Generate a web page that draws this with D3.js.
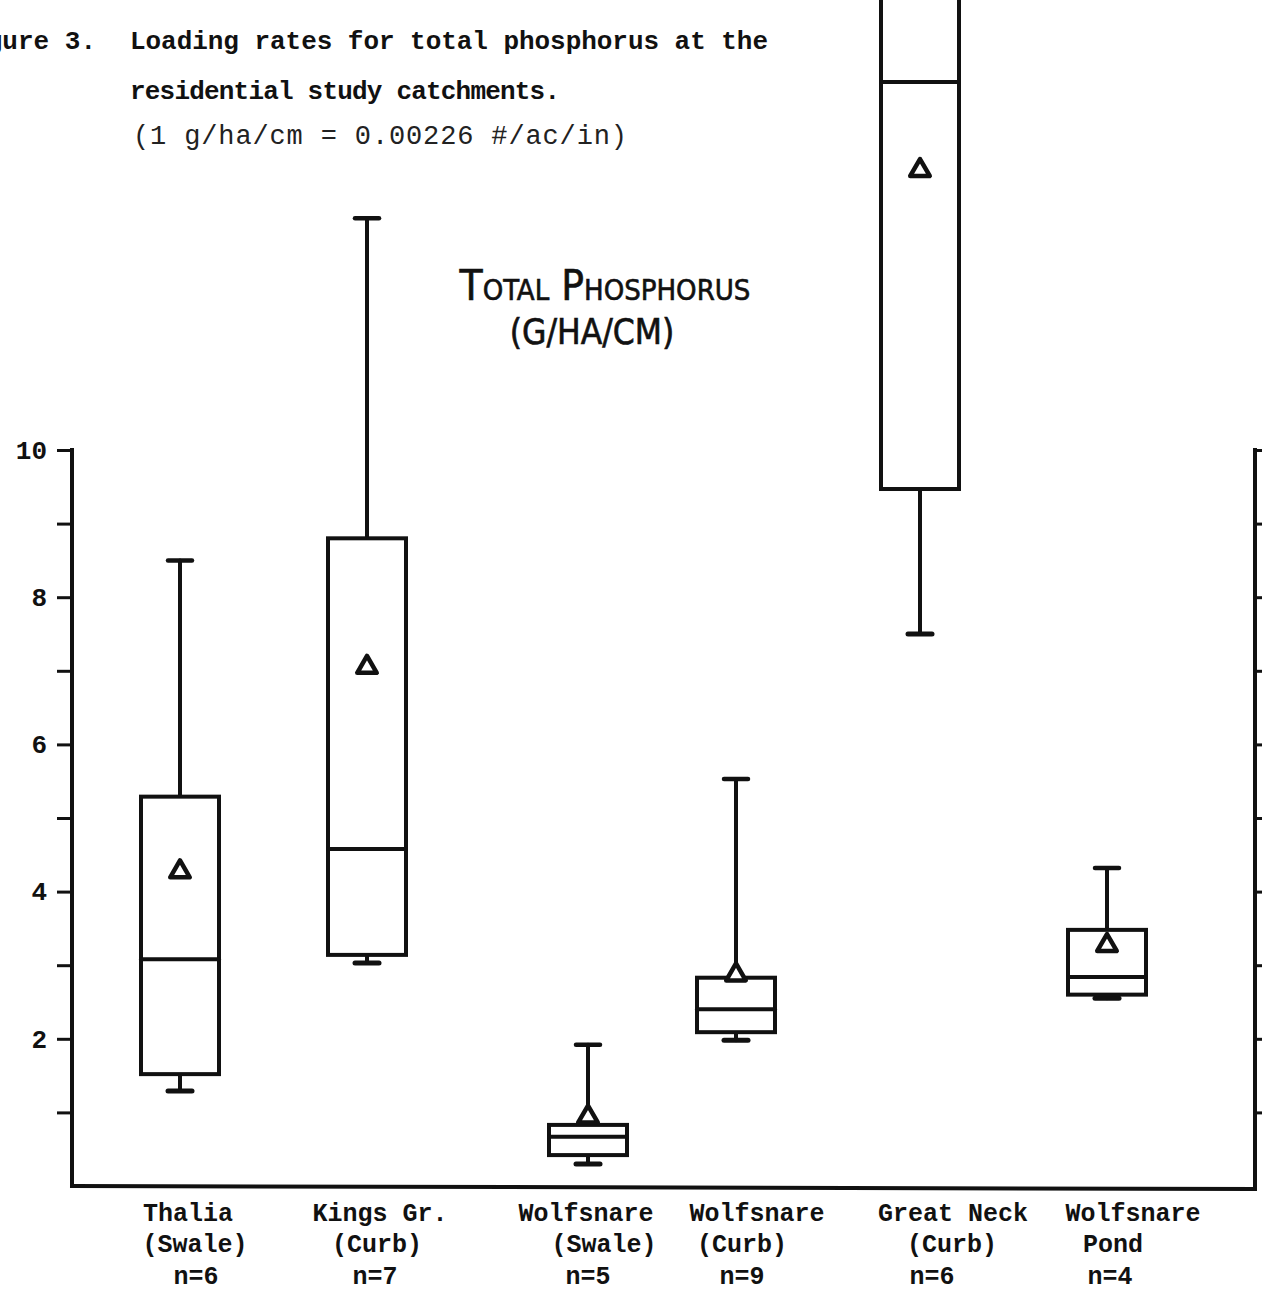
<!DOCTYPE html>
<html>
<head>
<meta charset="utf-8">
<script src="https://cdn.jsdelivr.net/npm/d3@7"></script>
<style>
  html, body { margin: 0; padding: 0; background: #fff; }
  svg { display: block; }
</style>
</head>
<body>
<svg id="chart" width="1262" height="1293"></svg>
<script>
// ---- data ----
const categories = ["Thalia", "Kings Gr.", "Wolfsnare Swale", "Wolfsnare Curb", "Great Neck", "Wolfsnare Pond"];
const labelLine1 = ["Thalia", "Kings Gr.", "Wolfsnare", "Wolfsnare", "Great Neck", "Wolfsnare"];
const labelLine2 = ["(Swale)", "(Curb)", "(Swale)", "(Curb)", "(Curb)", "Pond"];
const sampleN    = ["n=6", "n=7", "n=5", "n=9", "n=6", "n=4"];
const whiskerLow  = [1.29, 3.03, 0.30, 1.98, 7.50, 2.55];
const boxQ1       = [1.52, 3.14, 0.42, 2.09, 9.47, 2.60];
const medianVal   = [3.08, 4.58, 0.67, 2.40, 15.0, 2.84];
const boxQ3       = [5.29, 8.80, 0.83, 2.83, 16.4, 3.48];
const whiskerHigh = [8.50, 13.15, 1.92, 5.53, 17.0, 4.32];
const meanVal     = [4.27, 7.05, 0.94, 2.87, 13.8, 3.27];
const yTicks = [1, 2, 3, 4, 5, 6, 7, 8, 9, 10];
const yTickLabels = ["", "2", "", "4", "", "6", "", "8", "", "10"];

// ---- layout ----
const svg = d3.select("#chart");
const ink = "#111";
const mono = "'Liberation Mono', 'DejaVu Sans Mono', monospace";

const y = d3.scaleLinear().domain([0, 10]).range([1186, 450]);
const x = d3.scaleOrdinal().domain(categories).range([180, 367, 588, 736, 920, 1107]);
const boxW = 78, capW = 24;
// typed label offsets relative to each box centre (layout, not data)
const off1 = [8, 13, -2, 21, 33, 26];
const off2 = [15, 10, 16, 6, 32, 6];
const off3 = [16, 8, 0, 6, 12, 3];

// Figure caption
const cap = svg.append("g").attr("fill", ink).style("font-family", mono);
cap.append("text").attr("x", 96).attr("y", 49).attr("text-anchor", "end")
  .attr("font-size", 26).attr("font-weight", "bold").text("Figure 3.");
cap.append("text").attr("x", 130).attr("y", 49)
  .attr("font-size", 26).attr("font-weight", "bold").attr("textLength", 638)
  .text("Loading rates for total phosphorus at the");
cap.append("text").attr("x", 130).attr("y", 99)
  .attr("font-size", 26).attr("font-weight", "bold").attr("textLength", 430)
  .text("residential study catchments.");
cap.append("text").attr("x", 133).attr("y", 144)
  .attr("font-size", 27).attr("fill", "#222").attr("textLength", 494)
  .text("(1 g/ha/cm = 0.00226 #/ac/in)");

// Chart title
const tt = svg.append("g").attr("fill", ink).attr("stroke", ink).attr("stroke-width", 0.6)
  .style("font-family", "'Liberation Sans Narrow', 'DejaVu Sans Condensed', 'Liberation Sans', sans-serif")
  .attr("text-anchor", "middle");
tt.append("text").attr("x", 605).attr("y", 300).attr("font-size", 42)
  .style("font-variant", "small-caps").text("Total Phosphorus");
tt.append("text").attr("x", 592).attr("y", 344).attr("font-size", 35)
  .text("(G/HA/CM)");

// Axes
const axisG = svg.append("g").attr("transform", "translate(72,0)")
  .call(d3.axisLeft(y).tickValues(yTicks).tickSize(15).tickPadding(10)
    .tickFormat((d, i) => yTickLabels[i]));
axisG.select(".domain").remove();
axisG.selectAll(".tick line").attr("stroke", ink).attr("stroke-width", 3);
axisG.selectAll(".tick text").attr("fill", ink).style("font-family", mono)
  .attr("font-size", 26).attr("font-weight", "bold");

const rightAxis = svg.append("g").attr("transform", "translate(1255,0)")
  .call(d3.axisRight(y).tickValues(yTicks).tickSize(9).tickFormat(""));
rightAxis.select(".domain").remove();
rightAxis.selectAll(".tick line").attr("stroke", ink).attr("stroke-width", 3);

const frame = svg.append("g").attr("stroke", ink).attr("fill", "none")
  .attr("stroke-width", 4).attr("stroke-linecap", "square");
frame.append("line").attr("x1", 72).attr("x2", 72).attr("y1", y(10)).attr("y2", y(0));
frame.append("line").attr("x1", 72).attr("x2", 1255).attr("y1", y(0)).attr("y2", y(0) + 3);
frame.append("line").attr("x1", 1255).attr("x2", 1255).attr("y1", y(10)).attr("y2", y(0) + 3);

// Boxes
const data = categories.map((c, i) => ({
  c, lo: whiskerLow[i], q1: boxQ1[i], med: medianVal[i], q3: boxQ3[i], hi: whiskerHigh[i], mean: meanVal[i]
}));

const boxes = svg.append("g").attr("stroke", ink).attr("fill", "none")
  .attr("stroke-width", 4).attr("stroke-linecap", "round");

const g = boxes.selectAll("g.box").data(data).join("g").attr("class", "box");
// whiskers
g.append("line").attr("x1", d => x(d.c)).attr("x2", d => x(d.c))
  .attr("y1", d => y(d.q3)).attr("y2", d => y(d.hi));
g.append("line").attr("x1", d => x(d.c)).attr("x2", d => x(d.c))
  .attr("y1", d => y(d.q1)).attr("y2", d => y(d.lo));
g.append("line").attr("x1", d => x(d.c) - capW / 2).attr("x2", d => x(d.c) + capW / 2)
  .attr("y1", d => y(d.hi)).attr("y2", d => y(d.hi)).attr("stroke-width", 4.5);
g.append("line").attr("x1", d => x(d.c) - capW / 2).attr("x2", d => x(d.c) + capW / 2)
  .attr("y1", d => y(d.lo)).attr("y2", d => y(d.lo)).attr("stroke-width", 5);
// box
g.append("rect").attr("x", d => x(d.c) - boxW / 2).attr("width", boxW)
  .attr("y", d => y(d.q3)).attr("height", d => y(d.q1) - y(d.q3))
  .attr("fill", "#fff");
// median
g.append("line").attr("x1", d => x(d.c) - boxW / 2).attr("x2", d => x(d.c) + boxW / 2)
  .attr("y1", d => y(d.med)).attr("y2", d => y(d.med));
// mean triangle
g.append("path").attr("d", d3.symbol(d3.symbolTriangle, 165))
  .attr("transform", d => `translate(${x(d.c)},${y(d.mean)})`)
  .attr("stroke-width", 4.5).attr("stroke-linejoin", "round").attr("fill", "#fff");

// Category labels
const lab = svg.append("g").attr("fill", ink).style("font-family", mono)
  .attr("font-size", 25).attr("font-weight", "bold").attr("text-anchor", "middle");
lab.selectAll("text.l1").data(categories).join("text").attr("class", "l1")
  .attr("x", (d, i) => x(d) + off1[i]).attr("y", 1221).text((d, i) => labelLine1[i]);
lab.selectAll("text.l2").data(categories).join("text").attr("class", "l2")
  .attr("x", (d, i) => x(d) + off2[i]).attr("y", 1252).text((d, i) => labelLine2[i]);
lab.selectAll("text.l3").data(categories).join("text").attr("class", "l3")
  .attr("x", (d, i) => x(d) + off3[i]).attr("y", 1284).text((d, i) => sampleN[i]);
</script>
</body>
</html>
